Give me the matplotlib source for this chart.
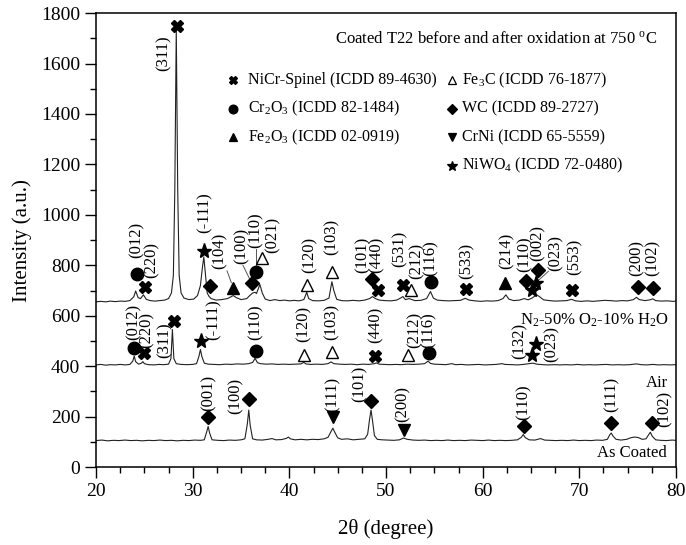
import matplotlib
matplotlib.use("Agg")
import matplotlib.pyplot as plt
from matplotlib.ticker import MultipleLocator

plt.rcParams["font.family"] = ["Liberation Serif", "DejaVu Serif"]
plt.rcParams["mathtext.fontset"] = "custom"
plt.rcParams["mathtext.rm"] = "Liberation Serif"
plt.rcParams["mathtext.it"] = "Liberation Serif:italic"

# ---- patterns (2theta, intensity) ----
coated_tt = [20.0, 20.6, 21.2, 21.8, 22.4, 23.0, 23.6, 24.2, 24.8, 25.4, 26.0, 26.6, 27.2, 27.8,
             28.4, 29.0, 29.6, 30.2, 30.8, 31.2, 31.45, 31.6, 31.75, 32.0, 32.6, 33.2, 33.8, 34.4,
             35.0, 35.4, 35.65, 35.8, 35.95, 36.2, 36.6, 37.2, 37.8, 38.2, 38.6, 39.2, 39.7, 39.9,
             40.1, 40.6, 41.2, 41.8, 42.4, 43.0, 43.6, 44.0, 44.3, 44.5, 44.7, 45.0, 45.4, 46.0,
             46.6, 47.2, 47.8, 48.1, 48.3, 48.45, 48.6, 48.8, 49.1, 49.6, 50.2, 50.8, 51.4, 51.8,
             52.2, 52.8, 53.4, 54.0, 54.6, 55.2, 55.8, 56.4, 57.0, 57.6, 58.2, 58.8, 59.4, 60.0,
             60.6, 61.2, 61.8, 62.4, 63.0, 63.6, 64.0, 64.2, 64.4, 64.8, 65.4, 66.0, 66.4, 67.0,
             67.6, 68.2, 68.8, 69.4, 70.0, 70.6, 71.2, 71.8, 72.4, 72.9, 73.15, 73.3, 73.5, 73.8,
             74.3, 74.9, 75.3, 75.7, 76.1, 76.5, 76.9, 77.2, 77.35, 77.55, 77.9, 78.4, 79.0, 79.6, 80.0]
coated_int = [105, 107, 104, 106, 105, 107, 105, 106, 104, 106, 105, 107, 105, 106,
              104, 106, 105, 107, 106, 108, 140, 161, 135, 108, 106, 105, 107, 106,
              108, 112, 170, 226, 165, 112, 108, 107, 110, 113, 108, 109, 114, 119,
              112, 108, 110, 108, 110, 109, 112, 118, 140, 154, 138, 116, 110, 112,
              108, 110, 112, 130, 190, 226, 185, 125, 110, 108, 107, 106, 108, 115,
              110, 107, 106, 107, 105, 106, 105, 107, 105, 106, 105, 107, 106, 105,
              107, 105, 106, 105, 106, 108, 118, 129, 117, 108, 107, 113, 107, 106,
              105, 106, 105, 107, 105, 106, 105, 107, 106, 110, 128, 135, 122, 110,
              107, 110, 116, 119, 117, 110, 112, 130, 138, 122, 108, 106, 105, 107, 106]

steam_tt = [20.0, 20.5, 21.0, 21.5, 22.0, 22.5, 23.0, 23.5, 23.8, 23.95, 24.1, 24.4, 24.7, 24.85,
            25.0, 25.4, 26.0, 26.5, 27.0, 27.5, 27.75, 27.9, 28.05, 28.3, 28.8, 29.4, 30.0, 30.4,
            30.65, 30.8, 30.95, 31.2, 31.6, 32.2, 32.8, 33.4, 34.0, 34.6, 35.2, 35.8, 36.2, 36.45,
            36.7, 37.0, 37.6, 38.2, 38.8, 39.4, 40.0, 40.6, 41.2, 41.5, 41.7, 42.2, 42.8, 43.4,
            44.0, 44.3, 44.6, 45.2, 45.8, 46.4, 47.0, 47.6, 48.2, 48.8, 49.0, 49.3, 49.8, 50.4,
            51.0, 51.6, 52.2, 52.8, 53.4, 54.0, 54.35, 54.6, 55.0, 55.6, 56.2, 56.8, 57.2, 57.8,
            58.4, 59.0, 59.6, 60.2, 60.8, 61.4, 62.0, 62.3, 63.0, 63.6, 64.2, 64.6, 65.2, 65.6,
            66.2, 66.8, 67.4, 68.0, 68.6, 69.2, 69.8, 70.4, 71.0, 71.6, 72.2, 72.8, 73.4, 74.0,
            74.6, 75.2, 75.9, 76.4, 77.0, 77.6, 78.2, 78.8, 79.4, 80.0]
steam_int = [405, 407, 404, 406, 405, 407, 405, 407, 420, 440, 418, 408, 412, 418,
             410, 406, 405, 407, 406, 408, 430, 545, 430, 410, 407, 406, 407, 410,
             440, 466, 438, 412, 408, 407, 406, 408, 407, 409, 408, 410, 415, 431,
             414, 410, 408, 409, 407, 408, 407, 408, 409, 415, 409, 407, 408, 407,
             410, 417, 410, 408, 407, 408, 406, 408, 407, 410, 413, 408, 407, 406,
             407, 406, 408, 407, 408, 410, 420, 411, 408, 407, 406, 410, 406, 407,
             405, 406, 407, 405, 406, 407, 410, 407, 406, 405, 407, 409, 412, 408,
             406, 405, 406, 405, 406, 405, 407, 405, 406, 405, 406, 407, 405, 406,
             405, 406, 409, 406, 405, 407, 405, 406, 405, 406]

air_tt = [20.0, 20.5, 21.0, 21.5, 22.0, 22.5, 23.0, 23.5, 23.9, 24.1, 24.35, 24.6, 24.9, 25.2,
          25.6, 26.1, 26.6, 27.1, 27.5, 27.8, 28.0, 28.15, 28.3, 28.45, 28.6, 28.8, 29.1, 29.6,
          30.1, 30.5, 30.8, 31.0, 31.15, 31.3, 31.5, 31.7, 31.9, 32.4, 33.0, 33.6, 34.0, 34.2,
          34.5, 35.0, 35.6, 35.9, 36.2, 36.45, 36.6, 36.95, 37.2, 37.5, 38.0, 38.5, 39.0, 39.5,
          40.0, 40.5, 41.0, 41.5, 41.8, 42.0, 42.4, 43.0, 43.6, 44.1, 44.4, 44.6, 44.9, 45.4,
          46.0, 46.6, 47.2, 47.8, 48.3, 48.6, 48.9, 49.3, 49.9, 50.5, 51.1, 51.5, 51.75, 52.0,
          52.4, 52.6, 53.0, 53.6, 54.2, 54.6, 54.9, 55.3, 55.9, 56.5, 57.1, 57.7, 58.2, 58.6,
          59.2, 59.8, 60.4, 61.0, 61.6, 62.1, 62.4, 62.7, 63.2, 63.8, 64.3, 64.7, 65.1, 65.6,
          65.9, 66.3, 66.9, 67.5, 68.1, 68.7, 69.2, 69.6, 70.2, 70.8, 71.4, 72.0, 72.6, 73.2,
          73.8, 74.4, 75.0, 75.6, 75.9, 76.2, 76.8, 77.3, 77.6, 77.9, 78.5, 79.1, 79.7, 80.0]
air_int = [655, 657, 655, 658, 656, 658, 657, 660, 675, 698, 672, 668, 683, 665,
           660, 658, 660, 662, 668, 690, 760, 1100, 1740, 1100, 760, 690, 670, 664,
           666, 680, 720, 790, 833, 770, 690, 676, 668, 662, 664, 668, 676, 680,
           672, 664, 668, 680, 690, 693, 688, 724, 690, 666, 660, 664, 660, 662,
           659, 661, 659, 664, 693, 668, 660, 659, 661, 670, 735, 700, 665, 660,
           659, 661, 659, 662, 668, 676, 668, 662, 660, 659, 662, 670, 676, 664,
           668, 665, 660, 661, 668, 696, 670, 662, 660, 659, 660, 661, 669, 662,
           659, 657, 659, 658, 660, 668, 683, 666, 660, 662, 668, 663, 670, 683,
           675, 663, 660, 658, 659, 660, 665, 659, 657, 659, 657, 659, 661, 660,
           658, 660, 659, 664, 673, 664, 660, 663, 667, 660, 658, 659, 657, 658]

# ---- phase markers: (phase, 2theta, y) ----
air_marks = [("sp", 25.07, 715), ("cr", 24.2, 764), ("sp", 28.41, 1750), ("nw", 31.17, 856),
             ("wc", 31.79, 719), ("fe", 34.2, 709), ("wc", 36.1, 731), ("cr", 36.52, 772),
             ("fc", 37.14, 827), ("fc", 41.8, 722), ("fc", 44.38, 772), ("wc", 48.52, 746),
             ("sp", 49.2, 702), ("sp", 51.73, 722), ("fc", 52.55, 702), ("cr", 54.62, 735),
             ("sp", 58.24, 706), ("fe", 62.31, 728), ("wc", 64.48, 739), ("nw", 65.07, 702),
             ("nw", 65.49, 728), ("wc", 65.75, 781), ("sp", 69.27, 702), ("wc", 76.1, 715),
             ("wc", 77.59, 709)]
steam_marks = [("cr", 23.96, 472), ("sp", 25.0, 453), ("sp", 28.1, 580), ("nw", 30.83, 499),
               ("cr", 36.52, 459), ("fc", 41.52, 444), ("fc", 44.38, 457), ("sp", 48.86, 440),
               ("fc", 52.3, 446), ("cr", 54.48, 453), ("nw", 65.13, 446), ("nw", 65.49, 486)]
coated_marks = [("wc", 31.6, 198), ("wc", 35.8, 269), ("cn", 44.5, 198), ("wc", 48.4, 261),
                ("cn", 51.9, 148), ("wc", 64.3, 161), ("wc", 73.3, 175), ("wc", 77.5, 175)]

# ---- hkl labels: (text, 2theta, bottom y) ----
air_hkl = [("(012)", 24.24, 827), ("(220)", 25.79, 751), ("(311)", 27.03, 1571), ("(-111)", 31.28, 930),
           ("(104)", 32.83, 787), ("(100)", 35.1, 807), ("(110)", 36.55, 870), ("(021)", 38.31, 847),
           ("(120)", 42.14, 771), ("(103)", 44.41, 839), ("(101)", 47.62, 768), ("(440)", 49.07, 768),
           ("(531)", 51.45, 792), ("(212)", 53.21, 747), ("(116)", 54.65, 759), ("(533)", 58.38, 747),
           ("(214)", 62.52, 784), ("(110)", 64.38, 775), ("(002)", 65.72, 819), ("(023)", 67.6, 779),
           ("(553)", 69.5, 760), ("(200)", 75.96, 759), ("(102)", 77.61, 759)]
steam_hkl = [("(012)", 23.85, 502), ("(220)", 25.24, 474), ("(311)", 27.14, 432), ("(-111)", 32.13, 502),
             ("(110)", 36.52, 502), ("(120)", 41.52, 494), ("(103)", 44.38, 502), ("(440)", 48.9, 490),
             ("(212)", 53.0, 474), ("(116)", 54.45, 474), ("(132)", 63.86, 430), ("(023)", 67.14, 416)]
coated_hkl = [("(001)", 31.6, 223), ("(100)", 34.4, 212), ("(111)", 44.5, 217), ("(101)", 47.3, 256),
              ("(200)", 51.76, 177), ("(110)", 64.27, 185), ("(111)", 73.38, 217), ("(102)", 78.86, 157)]

# leader lines in the top pattern
leaders = [((33.55, 778), (34.0, 731)), ((35.2, 800), (35.9, 745)),
           ((36.52, 866), (36.52, 800)), ((65.7, 738), (66.8, 776))]

phases = {
    "sp": ("NiCr-Spinel (ICDD 89-4630)", "X", "k", 9),
    "cr": ("Cr$_2$O$_3$ (ICDD 82-1484)", "o", "k", 9),
    "fe": ("Fe$_2$O$_3$ (ICDD 02-0919)", "^", "k", 9),
    "fc": ("Fe$_3$C (ICDD 76-1877)", "^", "w", 9),
    "wc": ("WC (ICDD 89-2727)", "D", "k", 7),
    "cn": ("CrNi (ICDD 65-5559)", "v", "k", 8),
    "nw": ("NiWO$_4$ (ICDD 72-0480)", "*", "k", 11),
}
legend_cols = [["sp", "cr", "fe"], ["fc", "wc", "cn", "nw"]]
legend_rows_y = [1534, 1421, 1308, 1195]
legend_x = [(34.2, 35.7), (56.8, 57.9)]

fig = plt.figure(figsize=(6.86, 5.45), dpi=100)
ax = fig.add_axes([0.14, 0.143, 0.8454, 0.833])

lc = "#222222"
ax.plot(coated_tt, coated_int, color=lc, lw=0.8)
ax.plot(steam_tt, steam_int, color=lc, lw=0.8)
ax.plot(air_tt, air_int, color=lc, lw=0.8)


def put_marks(marks):
    for key, x, y in marks:
        _, m, fc, ms = phases[key]
        ax.plot(x, y, marker=m, ms=ms, mfc=fc, mec="k", mew=1.0, ls="none", zorder=5)


def put_hkl(labels):
    for txt, x, y in labels:
        ax.text(x, y, txt, rotation=90, ha="center", va="bottom", fontsize=12)


for marks in (air_marks, steam_marks, coated_marks):
    put_marks(marks)
for labels in (air_hkl, steam_hkl, coated_hkl):
    put_hkl(labels)
for (x0, y0), (x1, y1) in leaders:
    ax.plot([x0, x1], [y0, y1], color="#555555", lw=0.7)

# legend drawn by hand, as in the original
ax.text(78.1, 1698, "Coated T22 before and after oxidation at 750 $^\\mathrm{o}$C",
        ha="right", va="center", fontsize=12)
for col, (mx, tx) in zip(legend_cols, legend_x):
    for key, y in zip(col, legend_rows_y):
        name, m, fc, ms = phases[key]
        ax.plot(mx, y, marker=m, ms=ms * 0.7, mfc=fc, mec="k", mew=0.9, ls="none")
        ax.text(tx, y, name, ha="left", va="center", fontsize=11.5)

ax.text(79.2, 581, "N$_2$-50% O$_2$-10% H$_2$O", ha="right", va="center", fontsize=12)
ax.text(78.0, 332, "Air", ha="center", va="center", fontsize=12)
ax.text(75.45, 54, "As Coated", ha="center", va="center", fontsize=12)

ax.set_xlim(20, 80)
ax.set_ylim(0, 1800)
ax.xaxis.set_major_locator(MultipleLocator(10))
ax.xaxis.set_minor_locator(MultipleLocator(2.5))
ax.yaxis.set_major_locator(MultipleLocator(200))
ax.yaxis.set_minor_locator(MultipleLocator(100))
ax.tick_params(which="major", length=8, width=1.0, labelsize=14, direction="out")
ax.tick_params(which="minor", length=4, width=1.0, direction="out")
for s in ax.spines.values():
    s.set_linewidth(1.1)
ax.set_xlabel("2θ (degree)", fontsize=15, labelpad=14)
ax.set_ylabel("Intensity (a.u.)", fontsize=15, labelpad=6)

fig.savefig("out.png", dpi=100)
